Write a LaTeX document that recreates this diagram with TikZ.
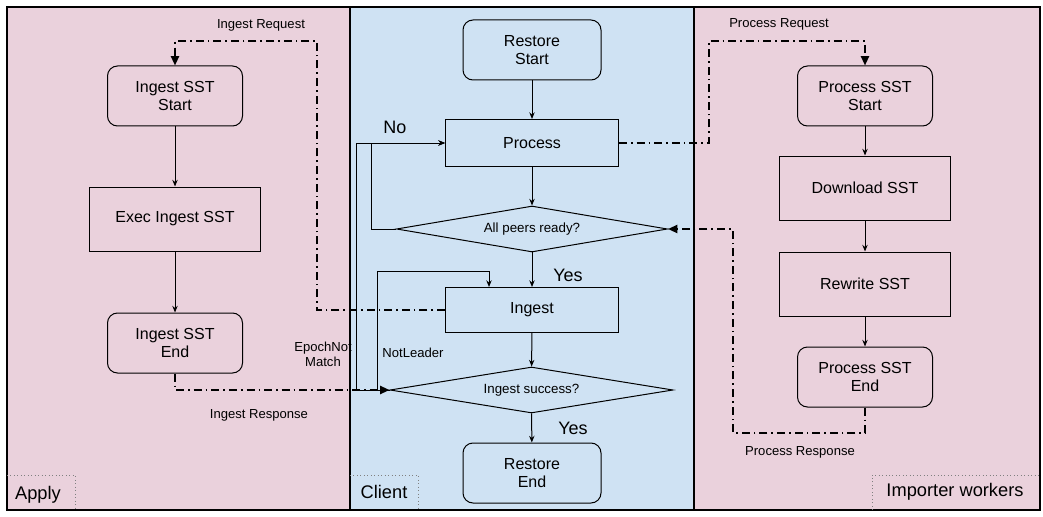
\documentclass[tikz,border=0pt]{standalone}
\usepackage{fontspec}
\setmainfont{Liberation Sans}
\usetikzlibrary{shapes.geometric,arrows.meta}
\definecolor{lanepink}{HTML}{EAD1DC}
\definecolor{laneblue}{HTML}{CFE2F3}
\tikzset{
  rectbox/.style={draw, line width=0.75pt, minimum width=128.25pt, minimum height=48pt, inner sep=2pt, font=\fontsize{12}{14}\selectfont, align=center},
  roundbox/.style={draw, line width=0.75pt, rounded corners=7.5pt, minimum width=101.25pt, minimum height=45pt, inner sep=2pt, font=\fontsize{12}{14}\selectfont, align=center},
  decision/.style={draw, diamond, shape aspect=6, line width=0.75pt, inner sep=0pt, minimum height=34.5pt, font=\fontsize{10}{12}\selectfont},
  flow/.style={line width=0.75pt, -{Stealth[length=5pt,width=4pt]}},
  msg/.style={line width=1.5pt, dash pattern=on 6pt off 3pt on 1.2pt off 3pt, -{Triangle[length=7pt,width=6pt]}},
  smalllabel/.style={font=\fontsize{9.8}{11.5}\selectfont, align=center},
  biglabel/.style={font=\fontsize{13.5}{16}\selectfont},
  lanelabel/.style={font=\fontsize{13.7}{16}\selectfont},
  lanetag/.style={draw=gray, dotted, line width=0.6pt}
}
\begin{document}
\begin{tikzpicture}[x=0.75pt,y=-0.75pt]
\useasboundingbox (0,0) rectangle (1043,517);
% lanes
\fill[lanepink] (7,7) rectangle (350,510);
\fill[laneblue] (350,7) rectangle (694,510);
\fill[lanepink] (694,7) rectangle (1040,510);
\draw[line width=1pt] (7,7) rectangle (1040,510);
\draw[line width=1pt] (350,7) -- (350,510);
\draw[line width=1pt] (694,7) -- (694,510);
% lane tags
\draw[lanetag] (7,475) -- (75,475) -- (75,510);
\node[lanelabel] (applylbl) at (38,495) {Apply};
\draw[lanetag] (350,475) -- (418,475) -- (418,510);
\node[lanelabel] (clientlbl) at (384,492) {Client};
\draw[lanetag] (872,510) -- (872,475) -- (1040,475);
\node[lanelabel] (implbl) at (955,492) {Importer workers};

% Apply lane
\node[roundbox] (isst) at (175,96) {Ingest SST\\Start};
\node[rectbox] (exec) at (175,219) {Exec Ingest SST};
\node[roundbox] (iend) at (175,343) {Ingest SST\\End};

% Client lane
\node[roundbox, minimum width=103.5pt] (rstart) at (532,50) {Restore\\Start};
\node[rectbox, minimum width=129.75pt, minimum height=35.25pt] (process) at (532,143) {Process};
\node[decision, minimum width=203.25pt] (allpeers) at (532,229) {All peers ready?};
\node[rectbox, minimum width=129.75pt, minimum height=33.75pt] (ingest) at (532,310) {Ingest};
\node[decision, minimum width=212.25pt] (isucc) at (531.5,390) {Ingest success?};
\node[roundbox, minimum width=103.5pt] (rend) at (532,473) {Restore\\End};

% Importer lane
\node[roundbox] (psst) at (865,96) {Process SST\\Start};
\node[rectbox] (download) at (865,188) {Download SST};
\node[rectbox] (rewrite) at (865,284) {Rewrite SST};
\node[roundbox] (pend) at (865,377) {Process SST\\End};

% solid flows
\draw[flow] (isst) -- (exec);
\draw[flow] (exec) -- (iend);
\draw[flow] (rstart) -- (process);
\draw[flow] (process) -- (allpeers);
\draw[flow] (allpeers) -- (ingest);
\draw[flow] (ingest) -- (isucc);
\draw[flow] (isucc) -- (rend);
\draw[flow] (psst) -- (download);
\draw[flow] (download) -- (rewrite);
\draw[flow] (rewrite) -- (pend);

% loops
\coordinate (noc) at (371,229);
\draw[flow] (allpeers.west) -- (noc) |- (process.west);
\coordinate (epc) at (356,390);
\draw[flow] (isucc.west) -- (epc) |- (process.west);
\coordinate (nlc) at (377,390);
\coordinate (nlt) at (489,271);
\draw[flow] (isucc.west) -- (nlc) |- (nlt) -- (ingest.north -| nlt);

% messages
\coordinate (irc) at (317,41);
\draw[msg] (ingest.west) -| (irc) -| (isst.north);
\draw[msg] (iend.south) |- (isucc.west);
\coordinate (prc) at (709,41);
\draw[msg] (process.east) -| (prc) -| (psst.north);
\coordinate (prs) at (733,433);
\draw[msg] (pend.south) |- (prs) |- (allpeers.east);

% labels
\node[smalllabel] (lir) at (261,25) {Ingest Request};
\node[smalllabel] (lpr) at (779,24) {Process Request};
\node[smalllabel] (lirs) at (259,415) {Ingest Response};
\node[smalllabel] (lprs) at (800,452) {Process Response};
\node[biglabel] (lno) at (395,127) {No};
\node[biglabel] (lyes1) at (568,275) {Yes};
\node[biglabel] (lyes2) at (573,428) {Yes};
\node[smalllabel] (lepoch) at (323,354) {EpochNot\\Match};
\node[smalllabel] (lnl) at (413,353) {NotLeader};
\end{tikzpicture}
\end{document}
